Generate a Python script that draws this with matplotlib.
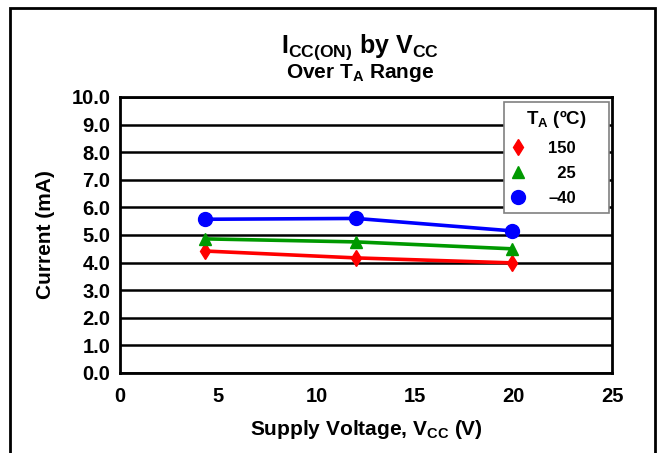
import matplotlib
matplotlib.use('Agg')
import matplotlib.pyplot as plt
from matplotlib.patches import Rectangle

plt.rcParams['font.family'] = ['Liberation Sans', 'DejaVu Sans']
plt.rcParams['font.weight'] = 'bold'
plt.rcParams['mathtext.fontset'] = 'custom'
plt.rcParams['mathtext.rm'] = 'Liberation Sans:bold'
plt.rcParams['mathtext.bf'] = 'Liberation Sans:bold'

vcc = [4.3, 12.0, 19.9]
icc_150 = [4.42, 4.17, 3.99]
icc_25 = [4.86, 4.75, 4.50]
icc_m40 = [5.57, 5.60, 5.15]
labels = ['150', '\u200725', '\u201340']

fig = plt.figure(figsize=(6.62, 4.53), dpi=100)
ax = fig.add_axes([120/662, 1 - 373/453, 492/662, 276/453])

# outer frame
fig.patches.append(Rectangle((10/662, -0.1), 645/662, 1.1 - 8/453, transform=fig.transFigure,
                             fill=False, edgecolor='black', linewidth=2))

ax.plot(vcc, icc_150, color='red', lw=2.6, marker='d', ms=8.5, label=labels[0], zorder=3)
ax.plot(vcc, icc_25, color='#009900', lw=2.6, marker='^', ms=8.5, label=labels[1], zorder=3)
ax.plot(vcc, icc_m40, color='blue', lw=2.6, marker='o', ms=10, label=labels[2], zorder=3)

ax.set_xlim(0, 25)
ax.set_ylim(0, 10)
ax.set_xticks(range(0, 26, 5))
ax.set_yticks([i for i in range(11)])
ax.set_yticklabels(['%.1f' % i for i in range(11)])
ax.yaxis.grid(True, color='black', lw=1.8)
ax.set_axisbelow(True)
for s in ax.spines.values():
    s.set_linewidth(2)
ax.tick_params(length=0, labelsize=14.5)
ax.tick_params(axis='x', pad=10)
ax.tick_params(axis='y', pad=7)
for t in ax.get_xticklabels() + ax.get_yticklabels():
    t.set_fontweight('bold')

ax.set_xlabel('Supply Voltage, V$_\\mathregular{CC}$ (V)', fontsize=15, fontweight='bold', labelpad=9)
ax.set_ylabel('Current (mA)', fontsize=15, fontweight='bold', labelpad=12)

fig.text(360/662, 1 - 47/453, 'I$_\\mathregular{CC(ON)}$ by V$_\\mathregular{CC}$',
         ha='center', va='center', fontsize=18, fontweight='bold')
fig.text(360/662, 1 - 73/453, 'Over T$_\\mathregular{A}$ Range',
         ha='center', va='center', fontsize=15, fontweight='bold')

leg = ax.legend(loc='upper right', bbox_to_anchor=(0.780, 0.5, 0.213, 0.482), mode='expand',
                title='T$_\\mathregular{A}$ (\u00baC)',
                fontsize=12, title_fontsize=13.5, frameon=True, fancybox=False,
                edgecolor='gray', framealpha=1, handlelength=1.0, handletextpad=1.3,
                labelspacing=0.62, borderpad=0.38, borderaxespad=0)
leg.get_frame().set_linewidth(1.2)
for line in leg.get_lines():
    line.set_linestyle('none')
for t in leg.get_texts():
    t.set_fontweight('bold')
leg.get_title().set_fontweight('bold')

plt.savefig('out.png', dpi=100)
